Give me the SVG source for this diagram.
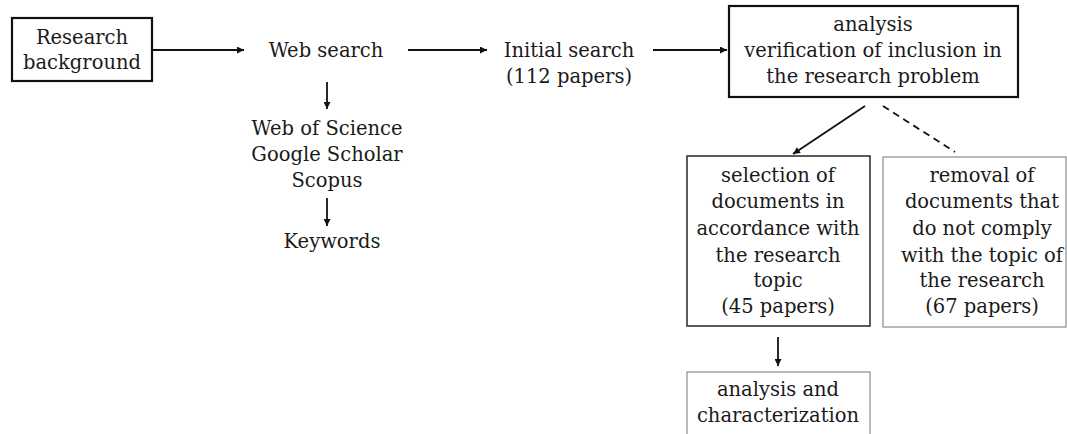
<svg xmlns="http://www.w3.org/2000/svg" width="1067" height="434" viewBox="0 0 1067 434">
<style>
text{font-family:"DejaVu Serif","Liberation Serif",serif;font-size:19.5px;fill:#1a1a1a;text-anchor:middle}
.thick{fill:#fff;stroke:#111;stroke-width:2.2}
.mid{fill:#fff;stroke:#333;stroke-width:1.6}
.thin{fill:#fff;stroke:#8a8a8a;stroke-width:1.2}
.ln{stroke:#111;stroke-width:1.8;fill:none}
.dash{stroke:#111;stroke-width:1.8;fill:none;stroke-dasharray:7 5}
</style>
<defs>
<marker id="ah" viewBox="0 0 10 10" refX="10" refY="5" markerWidth="9" markerHeight="7" markerUnits="userSpaceOnUse" orient="auto">
<path d="M0,0 L10,5 L0,10 z" fill="#111"/>
</marker>
</defs>
<rect width="1067" height="434" fill="#fff"/>
<g id="research-background">
<rect class="thick" x="12" y="18" width="140" height="63"/>
<text x="82" y="44">Research</text>
<text x="82" y="69">background</text>
</g>
<g id="web-search">
<text x="326" y="57">Web search</text>
</g>
<g id="databases">
<text x="327" y="135">Web of Science</text>
<text x="327" y="161">Google Scholar</text>
<text x="327" y="187">Scopus</text>
</g>
<g id="keywords">
<text x="332" y="248">Keywords</text>
</g>
<g id="initial-search">
<text x="569" y="57">Initial search</text>
<text x="569" y="83">(112 papers)</text>
</g>
<g id="analysis">
<rect class="thick" x="729" y="6" width="289" height="91"/>
<text x="873" y="31">analysis</text>
<text x="873" y="57">verification of inclusion in</text>
<text x="873" y="83">the research problem</text>
</g>
<g id="selection">
<rect class="mid" x="687" y="156" width="183" height="170"/>
<text x="778" y="182">selection of</text>
<text x="778" y="208">documents in</text>
<text x="778" y="235">accordance with</text>
<text x="778" y="262">the research</text>
<text x="778" y="287">topic</text>
<text x="778" y="313">(45 papers)</text>
</g>
<g id="removal">
<rect class="thin" x="883" y="157" width="183" height="170"/>
<text x="982" y="182">removal of</text>
<text x="982" y="208">documents that</text>
<text x="982" y="235">do not comply</text>
<text x="982" y="262">with the topic of</text>
<text x="982" y="287">the research</text>
<text x="982" y="313">(67 papers)</text>
</g>
<g id="characterization">
<rect class="thin" x="687" y="372" width="183" height="70"/>
<text x="778" y="396">analysis and</text>
<text x="778" y="422">characterization</text>
</g>
<g id="connectors">
<line class="ln" x1="152" y1="50" x2="244" y2="50" marker-end="url(#ah)"/>
<line class="ln" x1="408" y1="50" x2="487" y2="50" marker-end="url(#ah)"/>
<line class="ln" x1="653" y1="50" x2="727" y2="50" marker-end="url(#ah)"/>
<line class="ln" x1="327" y1="82" x2="327" y2="109" marker-end="url(#ah)"/>
<line class="ln" x1="327" y1="198" x2="327" y2="226" marker-end="url(#ah)"/>
<line class="ln" x1="865" y1="106" x2="793" y2="154" marker-end="url(#ah)"/>
<line class="dash" x1="883" y1="106" x2="955" y2="152"/>
<line class="ln" x1="778" y1="337" x2="778" y2="366" marker-end="url(#ah)"/>
</g>
</svg>
